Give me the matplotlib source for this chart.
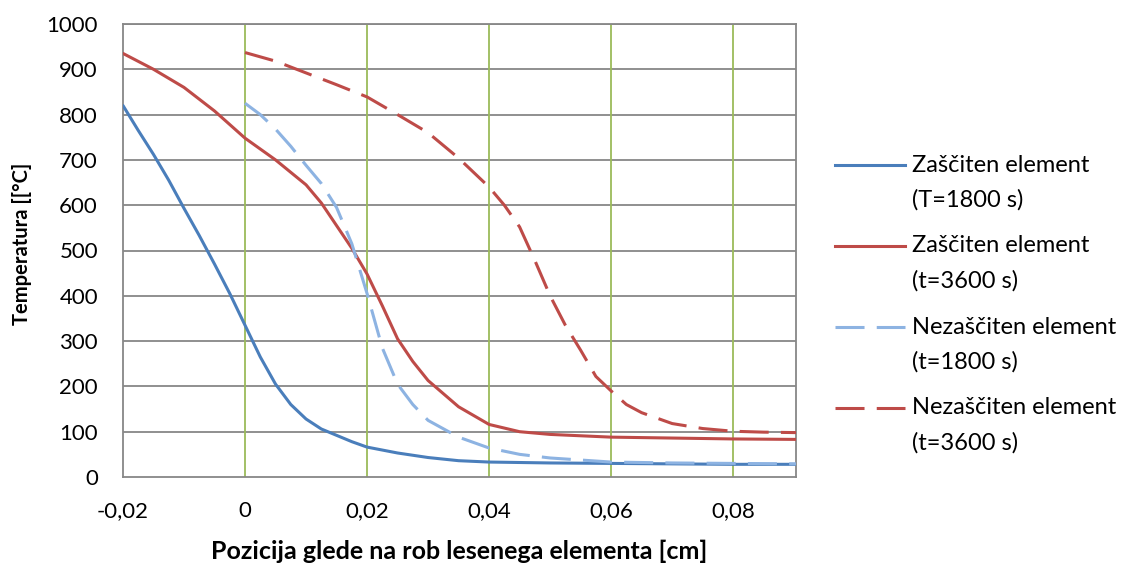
import numpy as np
import matplotlib
matplotlib.use('Agg')
import matplotlib.pyplot as plt
from matplotlib.lines import Line2D
from matplotlib.ticker import FuncFormatter, MultipleLocator

# ------------------------------------------------------------
# data
# ------------------------------------------------------------
x_zas_1800 = [-0.02, -0.0175, -0.015, -0.0125, -0.01, -0.0075, -0.005, -0.0025, 0.0,
              0.0025, 0.005, 0.0075, 0.01, 0.0125, 0.015, 0.0175, 0.02, 0.025, 0.03,
              0.035, 0.04, 0.05, 0.06, 0.07, 0.08, 0.0903]
y_zas_1800 = [820, 765, 712, 655, 593, 533, 470, 405, 335,
              265, 205, 160, 128, 106, 92, 78, 66, 53, 43,
              36, 33, 31, 30, 29, 28, 28]

x_zas_3600 = [-0.02, -0.015, -0.01, -0.005, 0.0, 0.005, 0.01, 0.0125, 0.015, 0.0175,
              0.02, 0.0225, 0.025, 0.0275, 0.03, 0.035, 0.04, 0.045, 0.05, 0.06,
              0.07, 0.08, 0.0903]
y_zas_3600 = [935, 900, 860, 808, 748, 700, 645, 605, 555, 505,
              448, 378, 305, 255, 213, 155, 116, 100, 94, 88,
              86, 84, 83]

x_nez_1800 = [0.0, 0.0025, 0.005, 0.0075, 0.01, 0.0125, 0.015, 0.0175, 0.02, 0.0225,
              0.025, 0.0275, 0.03, 0.035, 0.04, 0.045, 0.05, 0.06, 0.07, 0.08, 0.0903]
y_nez_1800 = [825, 800, 768, 730, 688, 648, 595, 515, 405, 285,
              205, 160, 125, 88, 64, 50, 42, 33, 31, 30, 29]

x_nez_3600 = [0.0, 0.005, 0.01, 0.015, 0.02, 0.025, 0.03, 0.035, 0.04, 0.0425,
              0.045, 0.0475, 0.05, 0.0525, 0.055, 0.0575, 0.06, 0.0625, 0.065,
              0.07, 0.075, 0.08, 0.085, 0.0903]
y_nez_3600 = [937, 918, 892, 866, 839, 800, 760, 704, 640, 600,
              552, 478, 400, 335, 280, 222, 190, 160, 142,
              118, 107, 101, 99, 98]

labels = ['Zaščiten element\n(T=1800 s)', 'Zaščiten element\n(t=3600 s)',
          'Nezaščiten element\n(t=1800 s)', 'Nezaščiten element\n(t=3600 s)']

C_BLUE = '#4A7EBB'
C_RED = '#BE4B48'
C_LBLUE = '#8DB3E2'
C_GREEN = '#9BBB59'
C_GRAY = '#878787'

plt.rcParams['font.family'] = ['Lato', 'DejaVu Sans']

fig = plt.figure(figsize=(11.27, 5.64), dpi=100)
W, H = 1127.0, 564.0
ax = fig.add_axes([123 / W, 1 - 477 / H, 673 / W, 453 / H])

dash = (0, (9.5, 4))
lw = 2.2
styles = [(C_BLUE, '-'), (C_RED, '-'), (C_LBLUE, dash), (C_RED, dash)]
series = [(x_zas_1800, y_zas_1800), (x_zas_3600, y_zas_3600),
          (x_nez_1800, y_nez_1800), (x_nez_3600, y_nez_3600)]
for (xs, ys), (c, ls) in zip(series, styles):
    ax.plot(xs, ys, color=c, lw=lw, ls=ls, zorder=3, solid_capstyle='round')

ax.set_xlim(-0.02, 0.0903)
ax.set_ylim(0, 1000)
ax.xaxis.set_major_locator(MultipleLocator(0.02))
ax.yaxis.set_major_locator(MultipleLocator(100))

def comma(v, pos):
    if abs(v) < 1e-12:
        return '0'
    return f'{v:.2f}'.replace('.', ',')

ax.xaxis.set_major_formatter(FuncFormatter(comma))

# gridlines: gray horizontal, green vertical
for yv in range(100, 1001, 100):
    ax.axhline(yv, color=C_GRAY, lw=1.3, zorder=1)
for xv in [0.0, 0.02, 0.04, 0.06, 0.08]:
    ax.axvline(xv, color=C_GREEN, lw=1.3, zorder=1)

for s in ax.spines.values():
    s.set_color(C_GRAY)
    s.set_linewidth(1.3)

ax.tick_params(length=0, labelsize=16)
ax.tick_params(axis='y', pad=18)
ax.tick_params(axis='x', pad=17)

ax.set_xlabel('Pozicija glede na rob lesenega elementa [cm]', fontsize=18,
              fontweight='bold', va='center')
ax.xaxis.set_label_coords(0.499, (477 - 551) / 453)
ax.set_ylabel('Temperatura [[°C]', fontsize=14.5, fontweight='bold', va='center')
ax.yaxis.set_label_coords((22 - 123) / 673, (477 - 244) / 453)

# Excel-style legend, drawn entry by entry
for i, ((c, ls), lab) in enumerate(zip(styles, labels)):
    yc = 1 - (165 + 81 * i) / H
    fig.add_artist(Line2D([835 / W, 905 / W], [yc, yc], color=c, lw=lw, ls=ls,
                          transform=fig.transFigure))
    l1, l2 = lab.split('\n')
    fig.text(912 / W, yc, l1, fontsize=17, va='center', ha='left')
    fig.text(912 / W, yc - 35 / H, l2, fontsize=17, va='center', ha='left')

fig.savefig('out.png', dpi=100)
